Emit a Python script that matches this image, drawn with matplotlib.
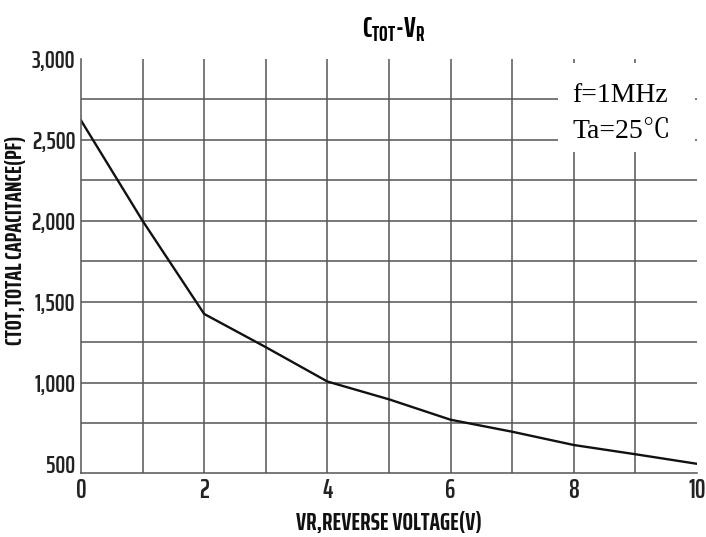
import numpy as np
import matplotlib
matplotlib.use("Agg")
import matplotlib.pyplot as plt
from matplotlib.patches import Rectangle

# Curve (Source: reference picture)
VR = [0, 1, 2, 3, 4, 5, 6, 7, 8, 9, 10]
CTOT = [2620, 2000, 1425, 1220, 1008, 898, 772, 698, 616, 559, 500]

X_TICKS = [0, 2, 4, 6, 8, 10]
Y_TICKS = [500, 1000, 1500, 2000, 2500, 3000]
GRID_X = [1, 2, 3, 4, 5, 6, 7, 8, 9]
GRID_Y = [750, 1000, 1250, 1500, 1750, 2000, 2250, 2500, 2750]

TICKFONT = ["Saira ExtraCondensed", "Barlow Condensed", "DejaVu Sans"]
LABELFONT = ["Saira ExtraCondensed", "Barlow Condensed", "DejaVu Sans"]
SERIF = ["Liberation Serif", "Noto Serif CJK SC", "Noto Sans CJK SC", "DejaVu Serif"]

plt.rcParams.update({
    "mathtext.fontset": "custom",
    "mathtext.rm": "Saira ExtraCondensed",
    "mathtext.bf": "Saira ExtraCondensed:bold",
})

fig = plt.figure(figsize=(7.06, 5.37), dpi=100)
ax = fig.add_axes([0.1147, 0.1197, 0.8726, 0.7708])

grid_kw = dict(color="#555555", lw=1.1, zorder=0.5)
ax.hlines(GRID_Y, 0, 10, **grid_kw)
ax.vlines(GRID_X, 445, 3000, **grid_kw)

# white box behind the test-condition note
ax.add_patch(Rectangle((7.75, 2425), 2.21, 550, facecolor="white",
                       edgecolor="none", zorder=1))

ax.plot(VR, CTOT, color="#111111", lw=1.7, zorder=2)

ax.set_xlim(0, 10)
ax.set_ylim(445, 3000)
for s in ("top", "right"):
    ax.spines[s].set_visible(False)
for s in ("left", "bottom"):
    ax.spines[s].set_color("#555555")
    ax.spines[s].set_linewidth(1.1)

ax.set_xticks(X_TICKS)
ax.set_xticklabels([str(v) for v in X_TICKS], family=TICKFONT, fontsize=19,
                   fontweight="semibold", color="#222222")
ax.set_yticks(Y_TICKS)
ax.set_yticklabels([f"{v:,}" for v in Y_TICKS], family=TICKFONT, fontsize=18,
                   fontweight="semibold", color="#222222")
ax.tick_params(axis="x", length=0, pad=4)
ax.tick_params(axis="y", length=0, pad=4)

ax.set_xlabel("VR,REVERSE VOLTAGE(V)", family=LABELFONT, fontweight="bold",
              fontsize=18, color="#111111")
ax.set_ylabel("CTOT,TOTAL CAPACITANCE(PF)", family=LABELFONT, fontweight="bold",
              fontsize=17, color="#111111")
ax.xaxis.set_label_coords(0.5, -0.093)
ax.yaxis.set_label_coords(-0.087, 0.562)

fig.text(0.557, 0.944, r"$\mathbf{C_{TOT}}$-$\mathbf{V_R}$", ha="center",
         va="center", fontsize=21, family=LABELFONT, fontweight="bold")

ax.text(7.98, 2735, "f=1MHz", family=SERIF, fontsize=20, va="baseline",
        ha="left", zorder=3)
ax.text(7.98, 2511, "Ta=25℃", family=SERIF, fontsize=20, va="baseline",
        ha="left", zorder=3)

fig.savefig("out.png", dpi=100, facecolor="white")
